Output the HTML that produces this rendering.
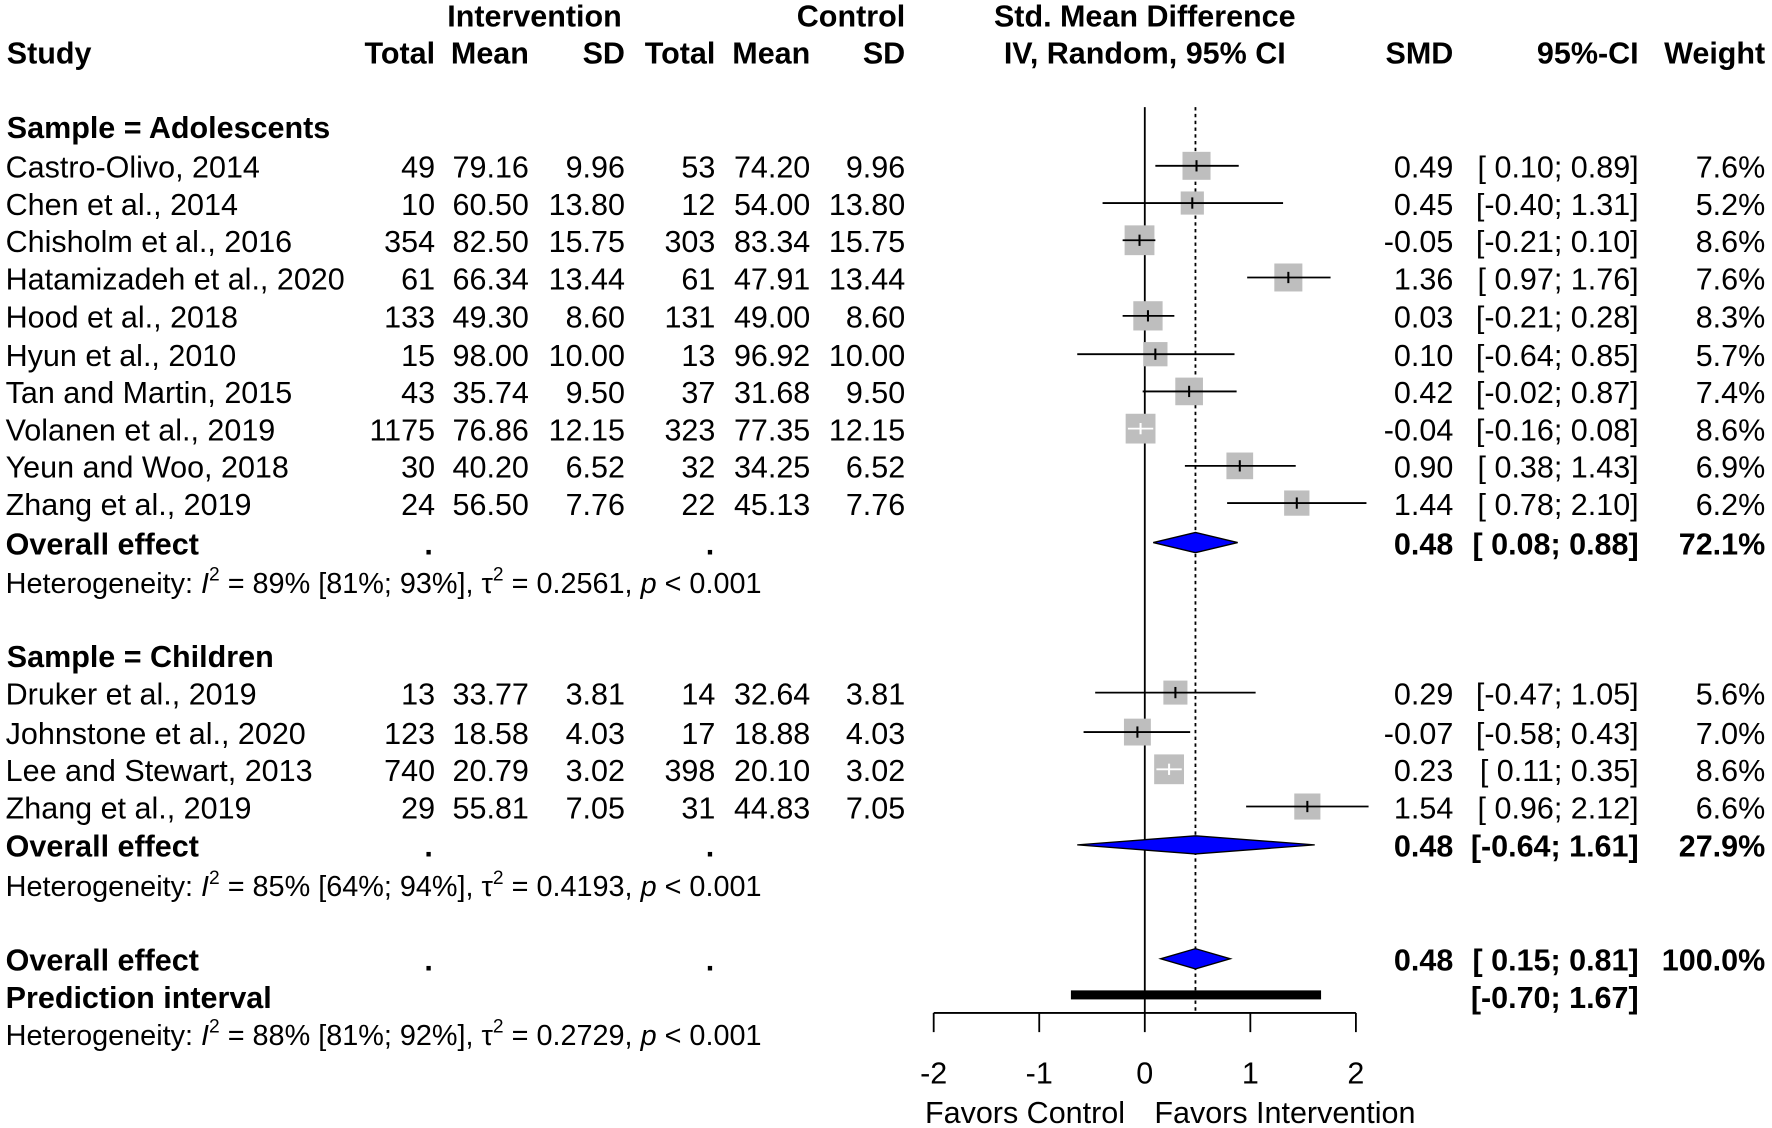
<!DOCTYPE html>
<html><head><meta charset="utf-8">
<style>
html,body{margin:0;padding:0;background:#fff;}
svg{display:block;}
text{font-family:"Liberation Sans",Arial,sans-serif;font-size:27px;fill:#000;}
.b{font-weight:bold;}
.h{font-size:25.5px;}
</style></head>
<body>
<svg id="plot" width="1772" height="1128" viewBox="0 0 1568 1000" preserveAspectRatio="none" xmlns="http://www.w3.org/2000/svg">
<g id="txt"></g>
<g id="marks"></g>
</svg>
<script>
const studies = ["Castro-Olivo, 2014","Chen et al., 2014","Chisholm et al., 2016","Hatamizadeh et al., 2020","Hood et al., 2018","Hyun et al., 2010","Tan and Martin, 2015","Volanen et al., 2019","Yeun and Woo, 2018","Zhang et al., 2019","Druker et al., 2019","Johnstone et al., 2020","Lee and Stewart, 2013","Zhang et al., 2019"];
const rowY = [147,180,213,246,280,314,347,380,413,446,614,649,682,715];
const eTotal = ["49","10","354","61","133","15","43","1175","30","24","13","123","740","29"];
const eMean = ["79.16","60.50","82.50","66.34","49.30","98.00","35.74","76.86","40.20","56.50","33.77","18.58","20.79","55.81"];
const eSD = ["9.96","13.80","15.75","13.44","8.60","10.00","9.50","12.15","6.52","7.76","3.81","4.03","3.02","7.05"];
const cTotal = ["53","12","303","61","131","13","37","323","32","22","14","17","398","31"];
const cMean = ["74.20","54.00","83.34","47.91","49.00","96.92","31.68","77.35","34.25","45.13","32.64","18.88","20.10","44.83"];
const cSD = eSD.slice();
const smd = [0.49,0.45,-0.05,1.36,0.03,0.10,0.42,-0.04,0.90,1.44,0.29,-0.07,0.23,1.54];
const lower = [0.10,-0.40,-0.21,0.97,-0.21,-0.64,-0.02,-0.16,0.38,0.78,-0.47,-0.58,0.11,0.96];
const upper = [0.89,1.31,0.10,1.76,0.28,0.85,0.87,0.08,1.43,2.10,1.05,0.43,0.35,2.12];
const weight = [7.6,5.2,8.6,7.6,8.3,5.7,7.4,8.6,6.9,6.2,5.6,7.0,8.6,6.6];
const pooledLabels = ["Overall effect","Overall effect","Overall effect"];
const pooledY = [481,749,850];
const pooledSMD = [0.48,0.48,0.48];
const pooledLow = [0.08,-0.64,0.15];
const pooledHigh = [0.88,1.61,0.81];
const pooledW = ["72.1%","27.9%","100.0%"];
const predLow = -0.70, predHigh = 1.67;
const ticks = [-2,-1,0,1,2];
const hetI2 = ["89% [81%; 93%]","85% [64%; 94%]","88% [81%; 92%]"];
const hetTau = ["0.2561","0.4193","0.2729"];
const hetY = [516,785,917];

const NS="http://www.w3.org/2000/svg";
const T=document.getElementById('txt'), M=document.getElementById('marks');
const x = v => 1013 + v*93.4;
function f(n){return (n<0?"-":"")+Math.abs(n).toFixed(2);}
function ci(l,u){return "["+(l<0?"":" ")+f(l)+"; "+f(u)+"]";}
function tx(s,xx,cy,anchor,cls,name){
  const t=document.createElementNS(NS,'text');
  t.setAttribute('x',xx);t.setAttribute('y',cy+10.5);
  t.setAttribute('text-anchor',anchor||'start');
  t.setAttribute('xml:space','preserve');
  if(cls)t.setAttribute('class',cls);
  t.textContent=s;
  
  
  T.appendChild(t);return t;
}
function el(tag,attrs,name,parent){
  const e=document.createElementNS(NS,tag);
  for(const k in attrs)e.setAttribute(k,attrs[k]);
  
  
  (parent||M).appendChild(e);return e;
}
tx("Intervention",473,13,"middle","b","intervention-header");
tx("Control",801,13,"end","b","control-header");
tx("Std. Mean Difference",1013,13,"middle","b","smd-header");
tx("Study",6,46,"start","b","study-header");
[["Total",385],["Mean",468],["SD",553],["Total",633],["Mean",717],["SD",801]].forEach(h=>tx(h[0],h[1],46,"end","b","column-header"));
tx("IV, Random, 95% CI",1013,46,"middle","b","method-header");
tx("SMD",1286,46,"end","b","smd-col-header");
tx("95%-CI",1450,46,"end","b","ci-col-header");
tx("Weight",1562,46,"end","b","weight-col-header");
tx("Sample = Adolescents",6,112,"start","b","subgroup-adolescents");
tx("Sample = Children",6,581,"start","b","subgroup-children");

el('line',{x1:x(0),x2:x(0),y1:95,y2:898,stroke:'#000','stroke-width':1.6},'zero-line');
el('line',{x1:x(0.48),x2:x(0.48),y1:95,y2:898,stroke:'#000','stroke-width':1.6,'stroke-dasharray':'3,3'},'pooled-effect-line');

studies.forEach((s,i)=>{
  const y=rowY[i];
  tx(s,5,y,"start",null,"study-name");
  tx(eTotal[i],385,y,"end",null,"int-total");
  tx(eMean[i],468,y,"end",null,"int-mean");
  tx(eSD[i],553,y,"end",null,"int-sd");
  tx(cTotal[i],633,y,"end",null,"ctrl-total");
  tx(cMean[i],717,y,"end",null,"ctrl-mean");
  tx(cSD[i],801,y,"end",null,"ctrl-sd");
  tx(f(smd[i]),1286,y,"end",null,"smd-value");
  tx(ci(lower[i],upper[i]),1450,y,"end",null,"ci-value");
  tx(weight[i].toFixed(1)+"%",1562,y,"end",null,"weight-value");
  const sz=Math.sqrt(weight[i])*9;
  el('rect',{x:x(smd[i])-sz/2,y:y-sz/2,width:sz,height:sz,fill:'#bebebe'},'study-square');
  const inside=(x(upper[i])-x(lower[i]))<sz;
  const col=inside?'#fff':'#000';
  el('line',{x1:x(lower[i]),x2:x(upper[i]),y1:y,y2:y,stroke:col,'stroke-width':1.6},'study-ci');
  el('line',{x1:x(smd[i]),x2:x(smd[i]),y1:y-5,y2:y+5,stroke:col,'stroke-width':1.8},'study-point');
});

pooledY.forEach((y,i)=>{
  tx(pooledLabels[i],5,y,"start","b","overall-effect-label");
  tx(".",383,y,"end","b","dot");
  tx(".",632,y,"end","b","dot");
  tx(f(pooledSMD[i]),1286,y,"end","b","pooled-smd");
  tx(ci(pooledLow[i],pooledHigh[i]),1450,y,"end","b","pooled-ci");
  tx(pooledW[i],1562,y,"end","b","pooled-weight");
  const h=i==1?8:9;
  el('polygon',{points:`${x(pooledLow[i])},${y} ${x(pooledSMD[i])},${y-h} ${x(pooledHigh[i])},${y} ${x(pooledSMD[i])},${y+h}`,fill:'#0000ff',stroke:'#000','stroke-width':1.2},'pooled-diamond');
});
tx("Prediction interval",5,883,"start","b","prediction-label");
tx(ci(predLow,predHigh),1450,883,"end","b","prediction-ci");
el('rect',{x:x(predLow),y:878,width:x(predHigh)-x(predLow),height:8,fill:'#000'},'prediction-bar');

hetY.forEach((y,i)=>{
  const t=tx("",5,y-1,"start","h","heterogeneity-text");
  t.innerHTML=`Heterogeneity: <tspan font-style="italic">I</tspan><tspan dy="-11" font-size="17">2</tspan><tspan dy="11"> = ${hetI2[i]}, τ</tspan><tspan dy="-11" font-size="17">2</tspan><tspan dy="11"> = ${hetTau[i]}, </tspan><tspan font-style="italic">p</tspan> &lt; 0.001`;
});

el('line',{x1:x(ticks[0]),x2:x(ticks[ticks.length-1]),y1:898,y2:898,stroke:'#000','stroke-width':1.6},'x-axis');
ticks.forEach(v=>{
  el('line',{x1:x(v),x2:x(v),y1:898,y2:915,stroke:'#000','stroke-width':1.6},'x-tick');
  tx(String(v),x(v),950,"middle",null,"x-tick-label");
});
tx("Favors Control",907,985,"middle",null,"favors-control-label");
tx("Favors Intervention",1137,985,"middle",null,"favors-intervention-label");
</script>
</body></html>
